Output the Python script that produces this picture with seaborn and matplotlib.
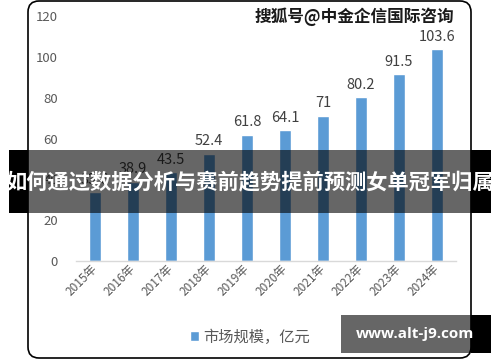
import matplotlib
matplotlib.use('Agg')
import matplotlib.pyplot as plt
from matplotlib.patches import FancyBboxPatch, Rectangle
import seaborn as sns

years = ['2015年', '2016年', '2017年', '2018年', '2019年',
         '2020年', '2021年', '2022年', '2023年', '2024年']
market_size = [33.6, 38.9, 43.5, 52.4, 61.8, 64.1, 71, 80.2, 91.5, 103.6]
bar_labels = ['33.6', '38.9', '43.5', '52.4', '61.8', '64.1', '71', '80.2', '91.5', '103.6']
y_ticks = [0, 20, 40, 60, 80, 100, 120]

sns.set_style('white')
plt.rcParams['font.family'] = ['Noto Sans CJK SC', 'DejaVu Sans']

W, H = 500, 362
fig = plt.figure(figsize=(W / 100, H / 100), dpi=100)
fig.patch.set_facecolor('white')


def px(x, y):
    # pixel (from top-left) -> inches for dpi_scale_trans
    return x / 100, (H - y) / 100


# rounded frame
x0, y0 = px(28, 358)
frame = FancyBboxPatch((x0, y0), (471 - 28) / 100, (358 - 1) / 100,
                       boxstyle='round,pad=0,rounding_size=0.11',
                       transform=fig.dpi_scale_trans, fc='none', ec='black',
                       lw=1.2, zorder=1)
fig.patches.append(frame)

ax = fig.add_axes([76 / W, (H - 261) / H, 380 / W, 245 / H])
ax.set_facecolor('none')
sns.barplot(x=years, y=market_size, color='#5B9BD5', width=0.32,
            label='市场规模，亿元', ax=ax, saturation=1)
ax.set_ylim(0, 120)
ax.set_xlim(-0.5, 9.5)
ax.set_yticks(y_ticks)
ax.set_xlabel('')
ax.set_ylabel('')
for s in ['top', 'right', 'left']:
    ax.spines[s].set_visible(False)
ax.spines['bottom'].set_color('#D9D9D9')
ax.spines['bottom'].set_linewidth(1)
ax.tick_params(axis='y', length=0, pad=13, labelsize=9.5, labelcolor='#595959')
ax.tick_params(axis='x', length=0, pad=4, labelsize=8.5, labelcolor='#595959')
plt.setp(ax.get_xticklabels(), rotation=45, ha='right', va='center',
         rotation_mode='anchor')

for i, v in enumerate(market_size):
    ax.annotate(bar_labels[i], (i, v), xytext=(0, 4), textcoords='offset points',
                ha='center', va='bottom', fontsize=10.5, color='#404040')

ax.legend(loc='center', bbox_to_anchor=(250 / W, 1 - 337 / H),
          bbox_transform=fig.transFigure, frameon=False, fontsize=11,
          labelcolor='#595959', handlelength=0.6, handleheight=0.6,
          handletextpad=0.3)

# watermark
fig.text(354 / W, 1 - 17 / H, '搜狐号@中金企信国际咨询', ha='center', va='center',
         fontsize=12, fontweight='heavy', color='#1a1a1a')

# banner
for a, b, alpha in [(9, 28, 1), (28, 471, 0.6), (471, 491, 1)]:
    fig.patches.append(Rectangle(px(a, 213), (b - a) / 100, 63 / 100,
                                 transform=fig.dpi_scale_trans, fc='black',
                                 alpha=alpha, ec='none', zorder=5))
fig.text(250 / W, 1 - 182 / H, '如何通过数据分析与赛前趋势提前预测女单冠军归属',
         ha='center', va='center', fontsize=15.3, fontweight='bold',
         color='white', zorder=6)

# bottom-right site box
for a, b, alpha in [(341, 471, 0.6), (471, 491, 1)]:
    fig.patches.append(Rectangle(px(a, 353), (b - a) / 100, 38 / 100,
                                 transform=fig.dpi_scale_trans, fc='black',
                                 alpha=alpha, ec='none', zorder=5))
fig.text(415 / W, 1 - 334 / H, 'www.alt-j9.com', ha='center', va='center',
         fontsize=11, fontweight='bold', color='white', family='Open Sans',
         zorder=6)

fig.savefig('out.png', dpi=100)
